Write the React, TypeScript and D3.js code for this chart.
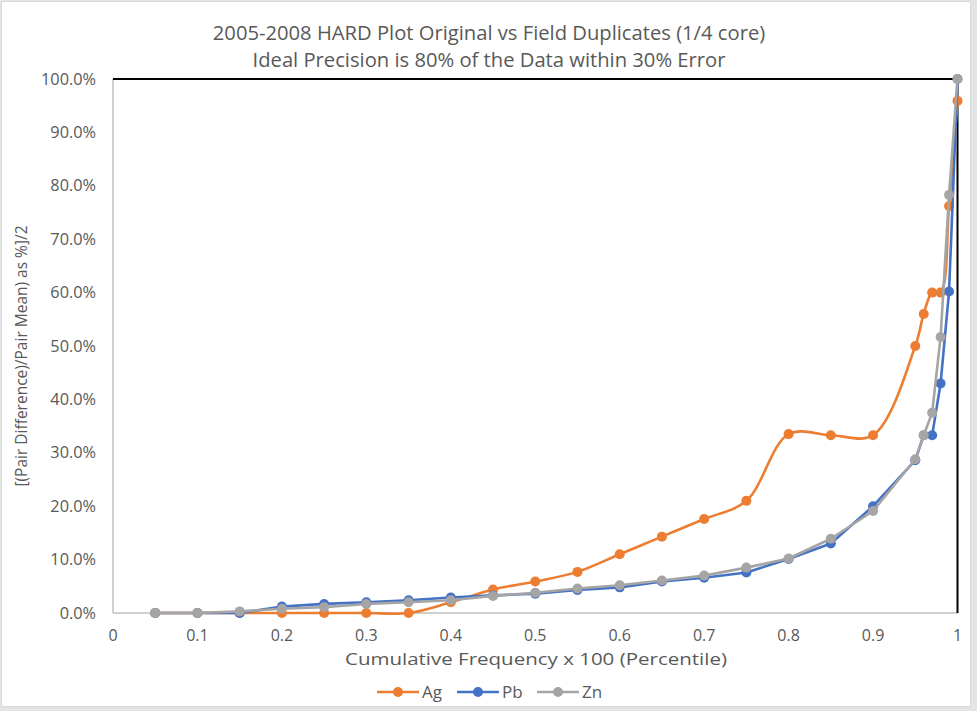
import React from "react";
import * as d3 from "d3";

// cumulative frequency (x) shared by all three series
const percentiles = [
  0.05, 0.1, 0.15, 0.2, 0.25, 0.3, 0.35, 0.4, 0.45, 0.5, 0.55, 0.6, 0.65, 0.7,
  0.75, 0.8, 0.85, 0.9, 0.95, 0.96, 0.97, 0.98, 0.99, 1.0,
];

// values in %
const agValues = [
  0, 0, 0, 0, 0, 0, 0, 2.0, 4.4, 5.9, 7.7, 11.0, 14.3, 17.6, 21.0, 33.5, 33.3,
  33.3, 50.0, 56.0, 60.0, 60.0, 76.2, 95.9,
];
const pbValues = [
  0, 0, 0, 1.2, 1.7, 2.0, 2.4, 2.9, 3.3, 3.6, 4.3, 4.8, 5.9, 6.6, 7.6, 10.1,
  13.0, 20.0, 28.6, 33.3, 33.3, 43.0, 60.2, 100,
];
const znValues = [
  0, 0, 0.3, 0.8, 1.1, 1.7, 2.0, 2.4, 3.2, 3.8, 4.6, 5.2, 6.1, 7.0, 8.5, 10.2,
  13.9, 19.1, 28.8, 33.3, 37.5, 51.7, 78.3, 100,
];

const xTicks = [0, 0.1, 0.2, 0.3, 0.4, 0.5, 0.6, 0.7, 0.8, 0.9, 1];
const yTicks = [0, 10, 20, 30, 40, 50, 60, 70, 80, 90, 100];

const titleLines = [
  "2005-2008 HARD Plot Original vs Field Duplicates (1/4 core)",
  "Ideal Precision is 80% of the Data within 30% Error",
];
const xTitle = "Cumulative Frequency x 100 (Percentile)";
const yTitle = "[(Pair Difference)/Pair Mean) as %]/2";

const series = [
  { name: "Ag", values: agValues, color: "#ED7D31", smooth: true },
  { name: "Pb", values: pbValues, color: "#4472C4", smooth: false },
  { name: "Zn", values: znValues, color: "#A5A5A5", smooth: false },
];

const width = 977;
const height = 711;
const left = 113;
const right = 957.5;
const top = 79;
const bottom = 613;
const font = "'Open Sans', sans-serif";
const textColor = "#595959";

export default function App() {
  const x = d3.scaleLinear().domain([0, 1]).range([left, right]);
  const y = d3.scaleLinear().domain([0, 100]).range([bottom, top]);

  const legendX = [398, 478, 558];

  return (
    <svg
      width={width}
      height={height}
      style={{ position: "absolute", left: 0, top: 0 }}
    >
      <rect x={0} y={0} width={width} height={height} fill="#e4e4e4" />
      <rect
        x={1.5}
        y={1.5}
        width={969}
        height={705}
        fill="#ffffff"
        stroke="#d9d9d9"
      />

      {/* title */}
      {titleLines.map((t, i) => (
        <text
          key={t}
          x={489}
          y={39.5 + i * 27}
          textAnchor="middle"
          fontFamily={font}
          fontSize={20.2}
          fill={textColor}
        >
          {t}
        </text>
      ))}

      {/* axes frame */}
      <line x1={left} x2={left} y1={top} y2={bottom} stroke="#bfbfbf" strokeWidth={1.5} />
      <line x1={left} x2={right} y1={bottom} y2={bottom} stroke="#bfbfbf" strokeWidth={1.5} />
      <line x1={left} x2={right} y1={y(100)} y2={y(100)} stroke="#000" strokeWidth={2} />
      <line x1={right} x2={right} y1={top} y2={bottom} stroke="#000" strokeWidth={2} />

      {/* y ticks */}
      {yTicks.map((t) => (
        <text
          key={t}
          x={96}
          y={y(t) + 5.5}
          textAnchor="end"
          fontFamily={font}
          fontSize={16.3}
          fill={textColor}
        >
          {t.toFixed(1) + "%"}
        </text>
      ))}

      {/* x ticks */}
      {xTicks.map((t) => (
        <text
          key={t}
          x={x(t)}
          y={640.5}
          textAnchor="middle"
          fontFamily={font}
          fontSize={16}
          fill={textColor}
        >
          {String(t)}
        </text>
      ))}

      {/* axis titles */}
      <text
        x={536}
        y={664.5}
        textAnchor="middle"
        fontFamily={font}
        fontSize={16.5}
        fill={textColor}
        textLength={382}
        lengthAdjust="spacingAndGlyphs"
      >
        {xTitle}
      </text>
      <text
        transform="translate(27,356) rotate(-90)"
        textAnchor="middle"
        fontFamily={font}
        fontSize={15.5}
        fill={textColor}
      >
        {yTitle}
      </text>

      {/* series */}
      {series.map((s) => {
        const pts: [number, number][] = percentiles.map((p, i) => [
          x(p),
          y(s.values[i]),
        ]);
        const line = d3
          .line()
          .curve(s.smooth ? d3.curveCatmullRom.alpha(0.5) : d3.curveLinear);
        return (
          <g key={s.name}>
            <path
              d={line(pts) || ""}
              fill="none"
              stroke={s.color}
              strokeWidth={2.6}
              strokeLinejoin="round"
              strokeLinecap="round"
            />
            {pts.map((p, i) => (
              <circle key={i} cx={p[0]} cy={p[1]} r={5} fill={s.color} />
            ))}
          </g>
        );
      })}

      {/* legend */}
      {series.map((s, i) => (
        <g key={s.name}>
          <line
            x1={legendX[i] - 21}
            x2={legendX[i] + 21}
            y1={692}
            y2={692}
            stroke={s.color}
            strokeWidth={2.6}
          />
          <circle cx={legendX[i]} cy={692} r={5} fill={s.color} />
          <text
            x={legendX[i] + 24}
            y={698}
            fontFamily={font}
            fontSize={17}
            fill={textColor}
          >
            {s.name}
          </text>
        </g>
      ))}
    </svg>
  );
}
